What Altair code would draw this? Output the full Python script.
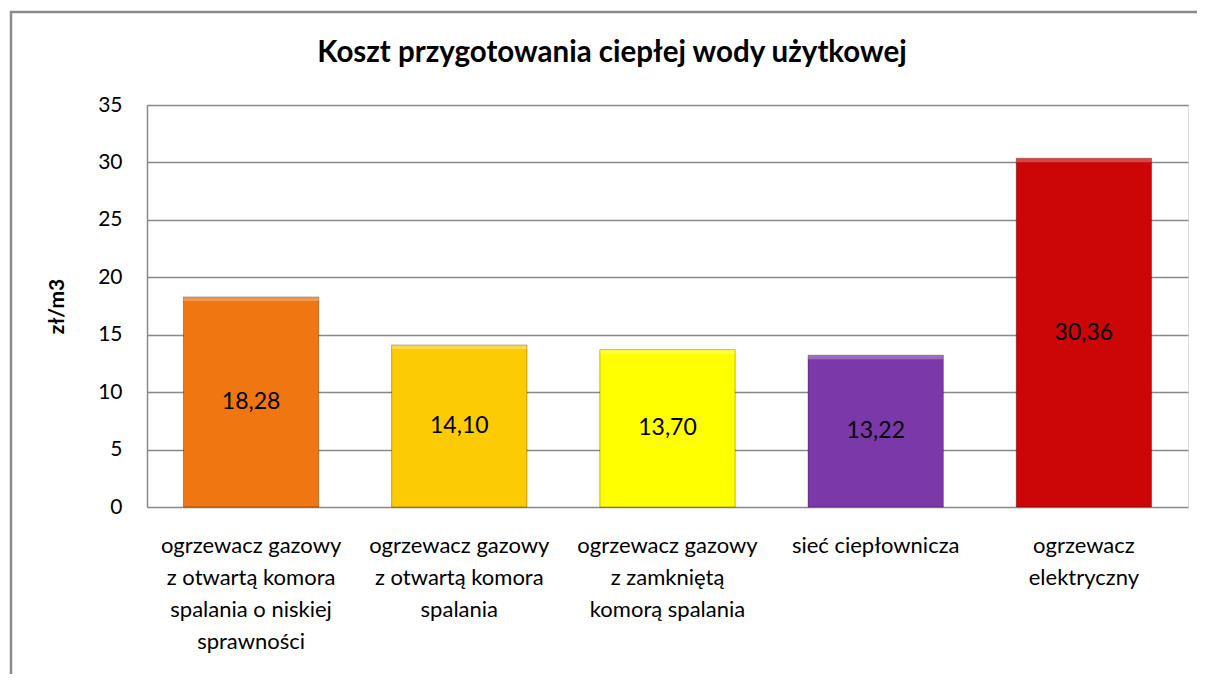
import altair as alt
import pandas as pd

categories = [
    "ogrzewacz gazowy|z otwartą komora|spalania o niskiej|sprawności",
    "ogrzewacz gazowy|z otwartą komora|spalania",
    "ogrzewacz gazowy|z zamkniętą|komorą spalania",
    "sieć ciepłownicza",
    "ogrzewacz|elektryczny",
]
values = [18.28, 14.10, 13.70, 13.22, 30.36]
value_labels = ["18,28", "14,10", "13,70", "13,22", "30,36"]
colors = ["#F07612", "#FDCB04", "#FFFF00", "#7B38A8", "#CC0606"]
y_ticks = [0, 5, 10, 15, 20, 25, 30, 35]

title_text = "Koszt przygotowania ciepłej wody użytkowej"
y_title = "zł/m3"
FONT = "Lato"

df = pd.DataFrame({"cat": categories, "value": values, "lab": value_labels, "col": colors})
one = pd.DataFrame({"t": [title_text]})

x_enc = alt.X(
    "cat:N",
    sort=categories,
    scale=alt.Scale(paddingInner=0.35, paddingOuter=0.175),
    axis=alt.Axis(
        title=None,
        labelAngle=0,
        labelExpr="split(datum.label, '|')",
        labelFontSize=22,
        labelFont=FONT,
        labelColor="#000000",
        labelLineHeight=32,
        labelPadding=28,
        labelLimit=400,
        ticks=False,
        domain=False,
        grid=False,
    ),
)

y_scale = alt.Scale(domain=[0, 35], nice=False)

bars = alt.Chart(df).mark_bar(stroke="#000000", strokeOpacity=0.3, strokeWidth=1).encode(
    x=x_enc,
    y=alt.Y(
        "value:Q",
        scale=y_scale,
        axis=alt.Axis(
            values=y_ticks,
            title=y_title,
            titleFont=FONT,
            titleFontSize=21,
            titleFontWeight="bold",
            titleColor="#000000",
            titlePadding=30,
            labelFont=FONT,
            labelFontSize=21,
            labelColor="#000000",
            labelPadding=25,
            ticks=False,
            domainColor="#888888",
            domainWidth=1.5,
            gridColor="#888888",
            gridWidth=1.5,
        ),
    ),
    color=alt.Color("col:N", scale=None, legend=None),
)

# bevel highlight at the top of each bar
highlight = alt.Chart(df).transform_calculate(top2="datum.value - 0.35").mark_bar(
    color="#ffffff", opacity=0.25
).encode(
    x=alt.X("cat:N", sort=categories),
    y=alt.Y("value:Q", scale=y_scale),
    y2="top2:Q",
)

texts = alt.Chart(df).transform_calculate(mid="datum.value / 2").mark_text(
    font=FONT, fontSize=23, color="#000000", baseline="middle", align="center"
).encode(
    x=alt.X("cat:N", sort=categories),
    y=alt.Y("mid:Q"),
    text="lab:N",
)

frame_top = alt.Chart(one).mark_rule(stroke="#8a8a8a", strokeWidth=2.5).encode(
    x=alt.value(-137), x2=alt.value(1050), y=alt.value(-93)
)
frame_left = alt.Chart(one).mark_rule(stroke="#8a8a8a", strokeWidth=2.5).encode(
    x=alt.value(-136), y=alt.value(-94), y2=alt.value(620)
)

title = alt.Chart(one).mark_text(
    font=FONT, fontSize=29.5, fontWeight="bold", color="#000000",
    align="center", baseline="alphabetic",
).encode(
    x=alt.value(465), y=alt.value(-43), text="t:N"
)

chart = (
    alt.layer(frame_top, frame_left, bars, highlight, texts, title)
    .properties(
        width=1041,
        height=402,
        autosize=alt.AutoSizeParams(type="none"),
        padding={"left": 139, "top": 97, "right": 10, "bottom": 167},
    )
    .configure_view(stroke="#888888", strokeWidth=1.5)
    .configure(background="#ffffff")
)

chart.save("out.html", embed_options={"renderer": "svg", "actions": False})
